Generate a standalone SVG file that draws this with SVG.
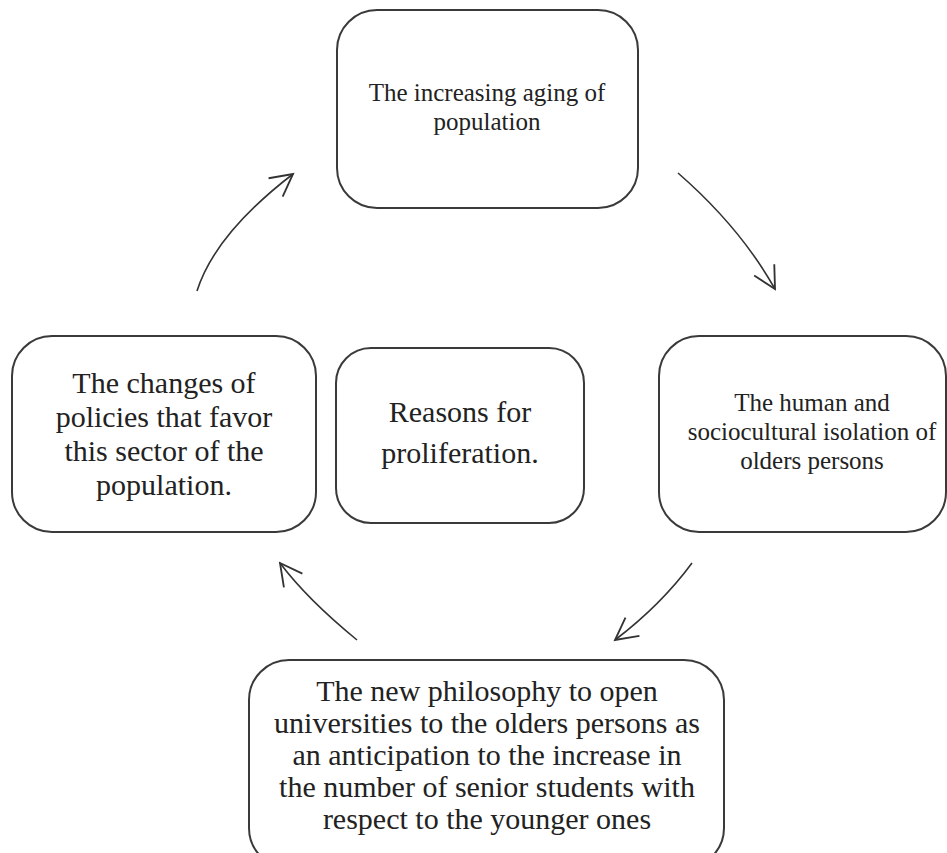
<svg xmlns="http://www.w3.org/2000/svg" width="947" height="853" viewBox="0 0 947 853">
<defs>
<style>
.box{fill:#fff;stroke:#3a3a3a;stroke-width:2}
text{font-family:'Liberation Serif','DejaVu Serif',serif;fill:#222;text-anchor:middle}
.s{font-size:25px}
.l{font-size:30px}
.c{fill:none;stroke:#333;stroke-width:1.6}
</style>
<marker id="ah" markerUnits="userSpaceOnUse" markerWidth="30" markerHeight="30" viewBox="-22 -12 26 24" refX="0" refY="0" orient="auto">
<path d="M-19,-10 L0,0 L-19,10" fill="none" stroke="#333" stroke-width="1.6"/>
</marker>
</defs>
<rect width="947" height="853" fill="#fff"/>
<g id="connectors">
<path class="c" d="M678,173 Q740,227 775,289" marker-end="url(#ah)"/>
<path class="c" d="M692,563 Q661,605 615,640" marker-end="url(#ah)"/>
<path class="c" d="M357,640 Q307,599 280,563" marker-end="url(#ah)"/>
<path class="c" d="M197,291 Q215,234 293,174" marker-end="url(#ah)"/>
</g>
<g id="node-top">
<rect class="box" x="337" y="10" width="301" height="198" rx="40"/>
<text class="s" x="487" y="101">The increasing aging of</text>
<text class="s" x="487" y="130">population</text>
</g>
<g id="node-right">
<rect class="box" x="659" y="336" width="287" height="196" rx="40"/>
<text class="s" x="812" y="411">The human and</text>
<text class="s" x="812" y="440">sociocultural isolation of</text>
<text class="s" x="812" y="469">olders persons</text>
</g>
<g id="node-left">
<rect class="box" x="12" y="336" width="304" height="196" rx="40"/>
<text class="l" x="164" y="393">The changes of</text>
<text class="l" x="164" y="427">policies that favor</text>
<text class="l" x="164" y="461">this sector of the</text>
<text class="l" x="164" y="495">population.</text>
</g>
<g id="node-center">
<rect class="box" x="336" y="348" width="248" height="175" rx="35"/>
<text class="l" x="460" y="422">Reasons for</text>
<text class="l" x="460" y="463">proliferation.</text>
</g>
<g id="node-bottom">
<rect class="box" x="249" y="660" width="475" height="208" rx="40"/>
<text class="l" x="487" y="701">The new philosophy to open</text>
<text class="l" x="487" y="733">universities to the olders persons as</text>
<text class="l" x="487" y="765">an anticipation to the increase in</text>
<text class="l" x="487" y="797">the number of senior students with</text>
<text class="l" x="487" y="829">respect to the younger ones</text>
</g>
</svg>
